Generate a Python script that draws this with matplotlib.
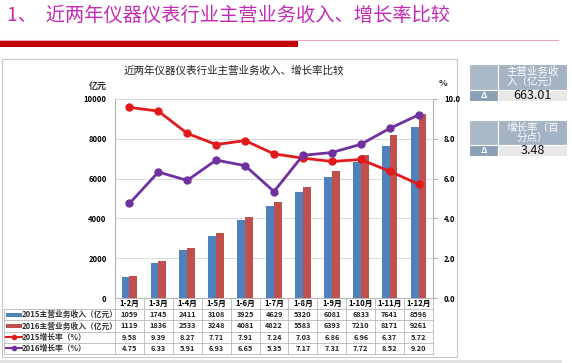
import matplotlib
matplotlib.use("Agg")
import matplotlib.pyplot as plt
from matplotlib.patches import Rectangle
from matplotlib.lines import Line2D
import numpy as np

plt.rcParams['font.family'] = ['Noto Sans CJK SC', 'DejaVu Sans']

months = ['1-2月', '1-3月', '1-4月', '1-5月', '1-6月', '1-7月', '1-8月', '1-9月', '1-10月', '1-11月', '1-12月']
rev2015 = [1059, 1745, 2411, 3108, 3925, 4629, 5320, 6081, 6833, 7641, 8598]
rev2016 = [1119, 1836, 2533, 3248, 4081, 4822, 5583, 6393, 7210, 8171, 9261]
gr2015 = [9.58, 9.39, 8.27, 7.71, 7.91, 7.24, 7.03, 6.86, 6.96, 6.37, 5.72]
gr2016 = [4.75, 6.33, 5.91, 6.93, 6.65, 5.35, 7.17, 7.31, 7.72, 8.52, 9.20]
row_labels = ['2015主营业务收入（亿元）', '2016主营业务收入（亿元）', '2015增长率（%）', '2016增长率（%）']
left_ticks = [0, 2000, 4000, 6000, 8000, 10000]
right_ticks = [0, 2, 4, 6, 8, 10]
slide_title = '1、  近两年仪器仪表行业主营业务收入、增长率比较'
chart_title = '近两年仪器仪表行业主营业务收入、增长率比较'
panel_heads = ['主营业务收\n入（亿元）', '增长率（百\n分点）']
panel_vals = ['663.01', '3.48']

W, H = 572, 363
fig = plt.figure(figsize=(W / 100, H / 100), dpi=100)
fig.patch.set_facecolor('white')

def fx(x):
    return x / W

def fy(y):
    return 1 - y / H

def rect(x0, y0, x1, y1, **kw):
    fig.patches.append(Rectangle((fx(x0), fy(y1)), fx(x1 - x0), fy(y0) - fy(y1),
                                 transform=fig.transFigure, **kw))

def hline(x0, x1, y, **kw):
    fig.add_artist(Line2D([fx(x0), fx(x1)], [fy(y), fy(y)], transform=fig.transFigure, **kw))

def vline(x, y0, y1, **kw):
    fig.add_artist(Line2D([fx(x), fx(x)], [fy(y0), fy(y1)], transform=fig.transFigure, **kw))

# Slide header
fig.text(fx(7), fy(15), slide_title, color='#C42BB4', fontsize=13.9, va='center', ha='left')
hline(0, 558, 39.5, color='#E8A8B8', lw=0.8)
rect(0, 39.5, 298, 47, facecolor='#C00000', edgecolor='none')

# Chart box
rect(2, 59, 457, 357, facecolor='none', edgecolor='#C8C8C8', lw=0.8, zorder=-5)
hline(0, 560, 361, color='#DDDDDD', lw=2)

# Main axes
px_l, px_r, px_t, px_b = 115, 433, 99, 298
ax = fig.add_axes([fx(px_l), fy(px_b), fx(px_r - px_l), fy(px_t) - fy(px_b)])
ax.set_facecolor('none')
n = len(months)
x = np.arange(n)
bw = 0.27
ax.bar(x - bw / 2, rev2015, bw, color='#4F81BD', zorder=3)
ax.bar(x + bw / 2, rev2016, bw, color='#C0504D', zorder=3)
ax.set_xlim(-0.5, n - 0.5)
ax.set_ylim(0, 10000)
ax.set_yticks(left_ticks)
ax.set_yticklabels([str(t) for t in left_ticks], fontsize=5.5, fontweight='bold')
ax.set_xticks([])
ax.grid(axis='y', color='#D9D9D9', lw=0.7, zorder=0)
for s in ['top', 'right']:
    ax.spines[s].set_visible(False)
ax.spines['left'].set_color('#B0B0B0')
ax.spines['bottom'].set_color('#B0B0B0')
ax.tick_params(axis='y', length=0, pad=6)

ax2 = ax.twinx()
ax2.plot(x, gr2015, color='#E31A1C', lw=2, marker='o', ms=5, zorder=5)
ax2.plot(x, gr2016, color='#7030A0', lw=2, marker='o', ms=5, zorder=5)
ax2.set_ylim(0, 10)
ax2.set_yticks(right_ticks)
ax2.set_yticklabels(['%.1f' % t for t in right_ticks], fontsize=5.5, fontweight='bold')
ax2.tick_params(axis='y', length=3, color='#B0B0B0', pad=5)
for s in ['top', 'left', 'bottom']:
    ax2.spines[s].set_visible(False)
ax2.spines['right'].set_color('#B0B0B0')

fig.text(fx(124), fy(71), chart_title, fontsize=7.6, va='center', ha='left', color='#222222')
fig.text(fx(98), fy(86), '亿元', fontsize=6.5, va='center', ha='center', fontweight='bold', color='#333333')
fig.text(fx(443), fy(84), '%', fontsize=6.5, va='center', ha='center', fontweight='bold', color='#333333')

# Data table
row_h = 11.2
rows_y = [px_b + i * row_h for i in range(6)]
cw = (px_r - px_l) / n
tc = '#B8B8B8'
for i, yy in enumerate(rows_y):
    hline(4 if i >= 1 else px_l, px_r, yy, color=tc, lw=0.6)
vline(4, rows_y[1], rows_y[5], color=tc, lw=0.6)
for k in range(n + 1):
    vline(px_l + k * cw, px_b, rows_y[5], color=tc, lw=0.6)
for k, m in enumerate(months):
    xc = px_l + (k + 0.5) * cw
    fig.text(fx(xc), fy(px_b + row_h / 2), m, fontsize=5.6, ha='center', va='center', fontweight='bold')
series = [rev2015, rev2016, gr2015, gr2016]
fmts = ['%d', '%d', '%.2f', '%.2f']
for r, (vals, f) in enumerate(zip(series, fmts)):
    yc = rows_y[r + 1] + row_h / 2
    for k, v in enumerate(vals):
        xc = px_l + (k + 0.5) * cw
        fig.text(fx(xc), fy(yc), f % v, fontsize=5.3, ha='center', va='center', fontweight='bold', color='#222222')
    fig.text(fx(22), fy(yc), row_labels[r], fontsize=5.6, ha='left', va='center', fontweight='bold', color='#333333')
# legend keys
rect(6, rows_y[1] + 4, 22, rows_y[1] + 7.5, facecolor='#4F81BD', edgecolor='none')
rect(6, rows_y[2] + 4, 22, rows_y[2] + 7.5, facecolor='#C0504D', edgecolor='none')
for r, c in [(3, '#E31A1C'), (4, '#7030A0')]:
    yc = rows_y[r] + row_h / 2
    fig.add_artist(Line2D([fx(6), fx(22)], [fy(yc), fy(yc)], transform=fig.transFigure,
                          color=c, lw=1.5))
    fig.add_artist(Line2D([fx(14)], [fy(yc)], transform=fig.transFigure, color=c,
                          marker='o', ms=3))

# Right panels
for (y0, y1, y2), head, val in zip([(64, 90, 101), (120, 145, 156)], panel_heads, panel_vals):
    rect(469, y0, 498, y1, facecolor='#AAB9C8', edgecolor='white', lw=0.8)
    rect(498, y0, 567, y1, facecolor='#A3B3C3', edgecolor='white', lw=0.8)
    rect(469, y1, 498, y2, facecolor='#8AA0B6', edgecolor='white', lw=0.8)
    rect(498, y1, 567, y2, facecolor='#E8E8E8', edgecolor='white', lw=0.8)
    fig.text(fx(532.5), fy((y0 + y1) / 2), head, fontsize=7.6, color='white', ha='center',
             va='center', linespacing=0.95)
    fig.text(fx(483.5), fy((y1 + y2) / 2), 'Δ', fontsize=6.5, color='white', ha='center',
             va='center', fontweight='bold')
    fig.text(fx(532.5), fy((y1 + y2) / 2), val, fontsize=9, color='#111111', ha='center',
             va='center')

fig.savefig('out.png', dpi=100)
